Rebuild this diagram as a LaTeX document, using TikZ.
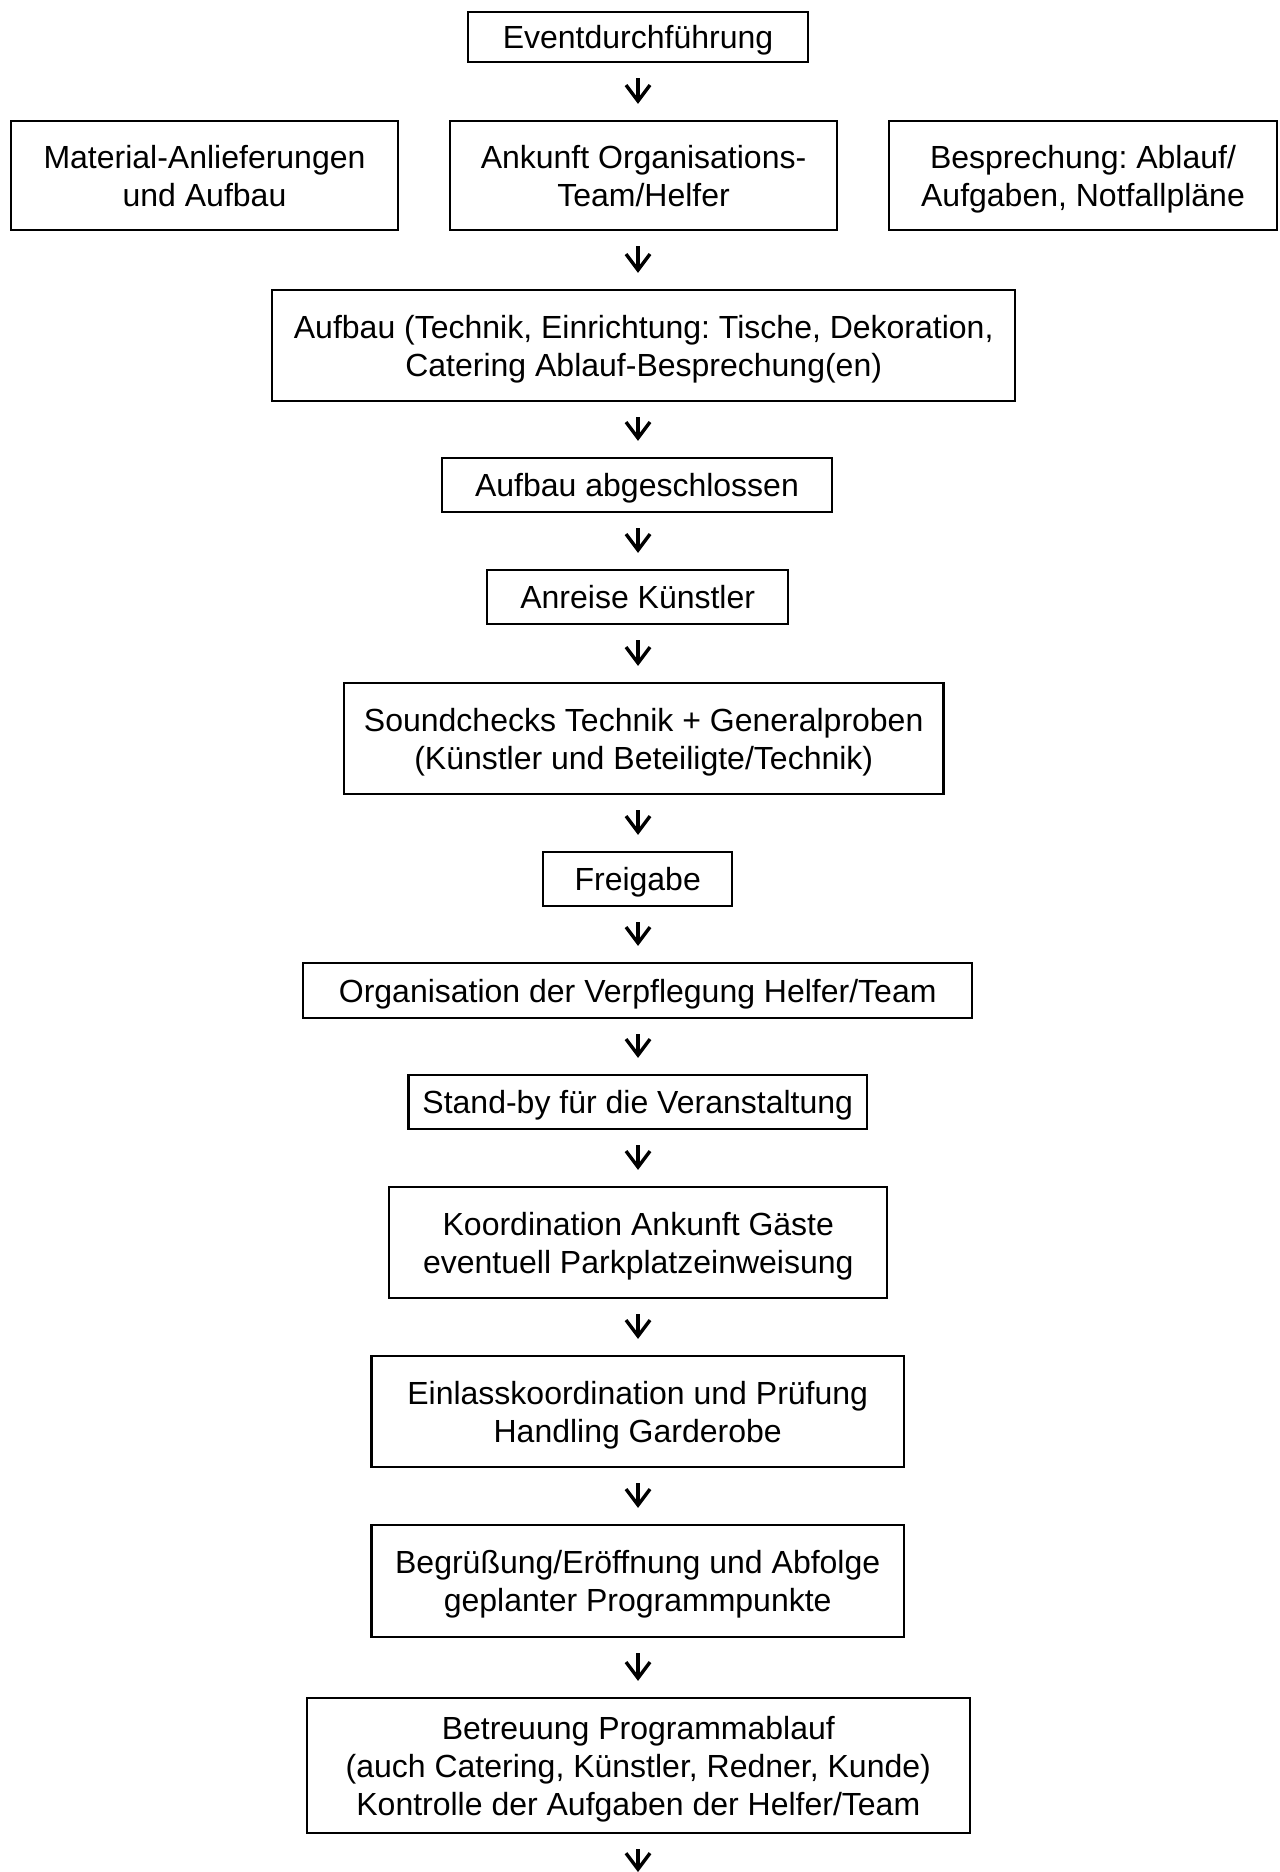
\documentclass[tikz,border=0pt]{standalone}
\usepackage{fontspec}
\setmainfont{Liberation Sans}
\usetikzlibrary{arrows.meta,calc}
\begin{document}
\frenchspacing
\begin{tikzpicture}[x=0.5pt,y=-0.5pt,
  box/.style={draw=black, line width=1.1pt, inner sep=0pt, align=center, text depth=0pt,
    text=black, font=\fontsize{16}{19}\selectfont\frenchspacing},
  flow/.style={-{Straight Barb[length=8pt,width=12pt,line width=1.7pt]}, line width=1.7pt, draw=black}]
\useasboundingbox (0,0) rectangle (1279,1872);
\coordinate (axis) at (638,0);
\coordinate (endpt) at (638,1872);
\node[box, minimum width=170pt, minimum height=25pt] (ev) at (638,37) {Eventdurchführung};
\node[box, minimum width=193.5pt, minimum height=54.5pt] (mat) at (204.5,175.5) {Material-Anlieferungen\\und Aufbau};
\node[box, minimum width=193.5pt, minimum height=54.5pt] (ank) at (643.5,175.5) {Ankunft Organisations-\\Team/Helfer};
\node[box, minimum width=194pt, minimum height=54.5pt] (bes) at (1083,175.5) {Besprechung: Ablauf/\\Aufgaben, Notfallpläne};
\node[box, minimum width=371.4pt, minimum height=55.5pt] (auf) at (643.7,345.5) {Aufbau (Technik, Einrichtung: Tische, Dekoration,\\Catering Ablauf-Besprechung(en)};
\node[box, minimum width=195.3pt, minimum height=27pt] (abg) at (637,485) {Aufbau abgeschlossen};
\node[box, minimum width=150.5pt, minimum height=27pt] (anr) at (637.7,597) {Anreise Künstler};
\node[box, minimum width=299.7pt, minimum height=55.5pt] (snd) at (643.7,738.5) {Soundchecks Technik + Generalproben\\(Künstler und Beteiligte/Technik)};
\node[box, minimum width=94.4pt, minimum height=27pt] (frg) at (637.7,879) {Freigabe};
\node[box, minimum width=334.4pt, minimum height=27.5pt] (org) at (637.7,990.5) {Organisation der Verpflegung Helfer/Team};
\node[box, minimum width=229.3pt, minimum height=27pt] (stb) at (637.7,1102) {Stand-by für die Veranstaltung};
\node[box, minimum width=249pt, minimum height=55.5pt] (koo) at (638.3,1242.5) {Koordination Ankunft Gäste\\eventuell Parkplatzeinweisung};
\node[box, minimum width=266.3pt, minimum height=55.5pt] (ein) at (637.7,1411.5) {Einlasskoordination und Prüfung\\Handling Garderobe};
\node[box, minimum width=266.3pt, minimum height=56pt] (beg) at (637.7,1581) {Begrüßung/Eröffnung und Abfolge\\geplanter Programmpunkte};
\node[box, minimum width=331.4pt, minimum height=67.5pt] (bet) at (638.3,1765.5) {Betreuung Programmablauf\\(auch Catering, Künstler, Redner, Kunde)\\Kontrolle der Aufgaben der Helfer/Team};
\foreach \a/\b in {ev/ank, ank/auf, auf/abg, abg/anr, anr/snd, snd/frg, frg/org, org/stb, stb/koo, koo/ein, ein/beg, beg/bet}{
  \draw[flow] ($(\a.south -| axis)+(0,15)$) -- ($(\b.north -| axis)+(0,-16)$);
}
\draw[flow] ($(bet.south -| axis)+(0,15)$) -- (endpt);
\end{tikzpicture}
\end{document}
